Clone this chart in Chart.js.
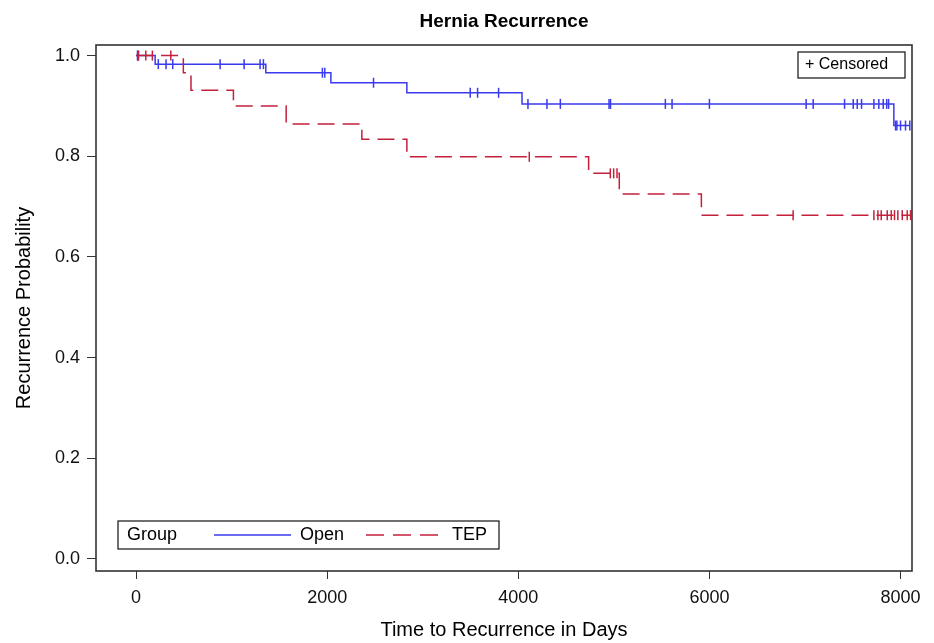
<!DOCTYPE html>
<html lang="en">
<head>
  <meta charset="UTF-8">
  <title>Hernia Recurrence</title>
  <script src="https://cdn.jsdelivr.net/npm/chart.js"></script>
  <style>
    body { margin: 0; padding: 0; background: #fff; }
    #chartBox { width: 934px; height: 643px; }
  </style>
</head>
<body>
  <div id="chartBox"><canvas id="kmChart"></canvas></div>

  <script>
    // Kaplan-Meier steps (time in days, survival after the drop)
    const openTimes = [0, 200, 1358, 2039, 2834, 4039, 7930, 8097];
    const openSurv  = [1.0, 0.983, 0.966, 0.946, 0.926, 0.904, 0.861, 0.861];
    const tepTimes  = [0, 495, 575, 1019, 1571, 2363, 2834, 4736, 5057, 5916, 8105];
    const tepSurv   = [1.0, 0.966, 0.931, 0.900, 0.864, 0.834, 0.799, 0.766, 0.725, 0.683, 0.683];

    // censoring times
    const openCensored = [15, 25, 233, 314, 384, 880, 1131, 1298, 1333, 1950, 1975, 2485,
      3497, 3574, 3794, 4101, 4300, 4440, 4950, 4965, 5539, 5609, 6000, 7012, 7086,
      7414, 7505, 7547, 7592, 7721, 7773, 7819, 7855, 7875, 7948, 7962, 8000, 8052, 8097];
    const tepCensored = [24, 102, 171, 364, 4115, 4963, 4998, 5033, 6876, 7721, 7763,
      7798, 7861, 7903, 7937, 7972, 8018, 8070, 8105];

    const xTicks = [0, 2000, 4000, 6000, 8000];
    const yTicks = [0.0, 0.2, 0.4, 0.6, 0.8, 1.0];

    const BLUE = '#3a3aee';
    const RED = '#c4203c';
    const FONT = "'Liberation Sans', Arial, sans-serif";

    function survAt(times, surv, t) {
      let s = surv[0];
      for (let i = 0; i < times.length; i++)
        if (times[i] <= t) s = surv[i];
      return s;
    }

    function toPoints(times, surv) {
      return times.map((t, i) => ({ x: t, y: surv[i] }));
    }

    function censorPoints(cens, times, surv) {
      return cens.map(t => ({ x: t, y: survAt(times, surv, t) }));
    }

    // frame, title and the two boxed legends
    const decorations = {
      id: 'decorations',
      afterDraw(chart) {
        const { ctx, chartArea: a } = chart;
        ctx.save();
        ctx.strokeStyle = '#333';
        ctx.lineWidth = 1.6;
        ctx.strokeRect(a.left, a.top, a.right - a.left, a.bottom - a.top);

        ctx.fillStyle = '#000';
        ctx.font = 'bold 19px ' + FONT;
        ctx.textAlign = 'center';
        ctx.textBaseline = 'middle';
        ctx.fillText('Hernia Recurrence', (a.left + a.right) / 2, 22);

        // censored legend, top right
        ctx.font = '16px ' + FONT;
        ctx.textAlign = 'left';
        ctx.fillStyle = '#fff';
        ctx.fillRect(a.right - 114, a.top + 7, 107, 26);
        ctx.lineWidth = 1.2;
        ctx.strokeStyle = '#111';
        ctx.strokeRect(a.right - 114, a.top + 7, 107, 26);
        ctx.fillStyle = '#000';
        ctx.fillText('+ Censored', a.right - 107, a.top + 20);

        // group legend, bottom left
        const lx = a.left + 22, ly = a.bottom - 50;
        ctx.fillStyle = '#fff';
        ctx.fillRect(lx, ly, 381, 28);
        ctx.strokeRect(lx, ly, 381, 28);
        ctx.fillStyle = '#000';
        ctx.font = '18px ' + FONT;
        ctx.fillText('Group', lx + 9, ly + 14);
        ctx.fillText('Open', lx + 182, ly + 14);
        ctx.fillText('TEP', lx + 334, ly + 14);
        ctx.lineWidth = 1.5;
        ctx.strokeStyle = BLUE;
        ctx.beginPath();
        ctx.moveTo(lx + 96, ly + 14);
        ctx.lineTo(lx + 173, ly + 14);
        ctx.stroke();
        ctx.strokeStyle = RED;
        ctx.setLineDash([18, 9]);
        ctx.beginPath();
        ctx.moveTo(lx + 248, ly + 14);
        ctx.lineTo(lx + 320, ly + 14);
        ctx.stroke();
        ctx.restore();
      }
    };

    const ctx = document.getElementById('kmChart').getContext('2d');
    new Chart(ctx, {
      type: 'line',
      data: {
        datasets: [
          {
            label: 'Open',
            data: toPoints(openTimes, openSurv),
            stepped: 'before',
            borderColor: BLUE,
            borderWidth: 1.5,
            pointRadius: 0,
            fill: false,
            order: 3
          },
          {
            label: 'TEP',
            data: toPoints(tepTimes, tepSurv),
            stepped: 'before',
            borderColor: RED,
            borderWidth: 1.5,
            borderDash: [17, 8],
            pointRadius: 0,
            fill: false,
            order: 2
          },
          {
            type: 'scatter',
            label: 'Open censored',
            data: censorPoints(openCensored, openTimes, openSurv),
            pointStyle: 'line',
            rotation: 90,
            radius: 5,
            borderColor: BLUE,
            borderWidth: 1.5,
            order: 1
          },
          {
            type: 'scatter',
            label: 'TEP censored',
            data: censorPoints(tepCensored, tepTimes, tepSurv),
            pointStyle: 'line',
            rotation: 90,
            radius: 5,
            borderColor: RED,
            borderWidth: 1.5,
            order: 0
          }
        ]
      },
      options: {
        responsive: true,
        maintainAspectRatio: false,
        animation: false,
        layout: { padding: { top: 45, right: 22, left: 0, bottom: 0 } },
        scales: {
          x: {
            type: 'linear',
            min: -419,
            max: 8120,
            afterBuildTicks: s => { s.ticks = xTicks.map(v => ({ value: v })); },
            afterFit: s => { s.height = 72; },
            ticks: {
              color: '#111',
              font: { family: FONT, size: 18 },
              padding: 8,
              callback: v => String(v)
            },
            grid: { drawOnChartArea: false, drawTicks: true, tickLength: 8, tickColor: '#333' },
            border: { display: false },
            title: {
              display: true,
              text: 'Time to Recurrence in Days',
              color: '#000',
              font: { family: FONT, size: 20 },
              padding: { top: 0, bottom: 1 }
            }
          },
          y: {
            type: 'linear',
            min: -0.024,
            max: 1.021,
            afterBuildTicks: s => { s.ticks = yTicks.map(v => ({ value: v })); },
            afterFit: s => { s.width = 96; },
            ticks: {
              color: '#111',
              font: { family: FONT, size: 18 },
              padding: 7,
              callback: v => v.toFixed(1)
            },
            grid: { drawOnChartArea: false, drawTicks: true, tickLength: 9, tickColor: '#333' },
            border: { display: false },
            title: {
              display: true,
              text: 'Recurrence Probability',
              color: '#000',
              font: { family: FONT, size: 20 },
              padding: { top: 12, bottom: 0 }
            }
          }
        },
        plugins: {
          legend: { display: false },
          title: { display: false },
          tooltip: { enabled: false }
        }
      },
      plugins: [decorations]
    });
  </script>
</body>
</html>
